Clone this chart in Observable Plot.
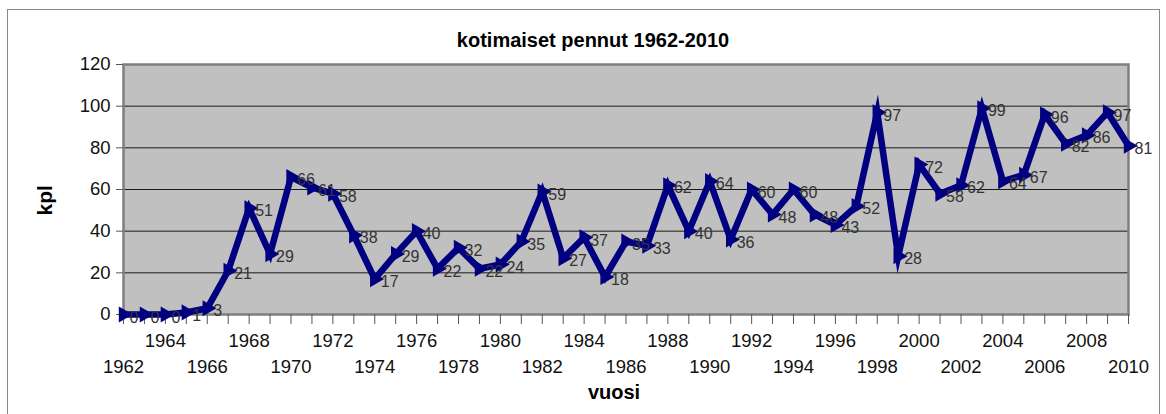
<!DOCTYPE html>
<html><head><meta charset="utf-8">
<script src="https://cdn.jsdelivr.net/npm/d3@7"></script>
<script src="https://cdn.jsdelivr.net/npm/@observablehq/plot@0.6"></script>
<style>
body{margin:0;background:#fff;font-family:"Liberation Sans",Arial,sans-serif;}
#wrap{position:relative;width:1166px;height:414px;overflow:hidden;}
#border{position:absolute;left:7px;top:9px;width:1153px;height:420px;border:1px solid #8a8a8a;box-sizing:border-box;}
#chart{position:absolute;left:0;top:0;}
</style></head><body>
<div id="wrap"><div id="border"></div><div id="chart"></div></div>
<script>
const years = [1962,1963,1964,1965,1966,1967,1968,1969,1970,1971,1972,1973,1974,1975,1976,1977,1978,1979,1980,1981,1982,1983,1984,1985,1986,1987,1988,1989,1990,1991,1992,1993,1994,1995,1996,1997,1998,1999,2000,2001,2002,2003,2004,2005,2006,2007,2008,2009,2010];
const counts = [0,0,0,1,3,21,51,29,66,61,58,38,17,29,40,22,32,22,24,35,59,27,37,18,35,33,62,40,64,36,60,48,60,48,43,52,97,28,72,58,62,99,64,67,96,82,86,97,81];
const upperTickYears = [1964,1968,1972,1976,1980,1984,1988,1992,1996,2000,2004,2008];
const lowerTickYears = [1962,1966,1970,1974,1978,1982,1986,1990,1994,1998,2002,2006,2010];
const yTicks = [0,20,40,60,80,100,120];
const gridValues = [20,40,60,80,100];
const titleText = "kotimaiset pennut 1962-2010";
const xLabel = "vuosi";
const yLabel = "kpl";

const data = years.map((y, i) => ({year: y, count: counts[i]}));
const font = "Liberation Sans, Arial, sans-serif";

const chart = Plot.plot({
  width: 1166,
  height: 414,
  marginLeft: 123,
  marginRight: 38,
  marginTop: 64,
  marginBottom: 100,
  style: {fontFamily: font, background: "transparent", color: "#111"},
  x: {domain: [1962, 2010]},
  y: {domain: [0, 120]},
  marks: [
    Plot.frame({fill: "#c0c0c0", stroke: null}),
    Plot.ruleY(gridValues, {stroke: "#1a1a1a", strokeWidth: 1}),
    Plot.frame({stroke: "#7f7f7f", strokeWidth: 2.5}),
    Plot.axisY(yTicks, {tickSize: 7, tickPadding: 6, fontSize: 18.5, stroke: "#555", fill: "#111", label: null}),
    Plot.axisX(years, {tickSize: 10, stroke: "#555", tickFormat: () => "", label: null}),
    Plot.axisX(upperTickYears, {tickSize: 0, tickPadding: 19, fontSize: 18.5, fill: "#111", tickFormat: d => String(d), label: null}),
    Plot.axisX(lowerTickYears, {tickSize: 0, tickPadding: 45, fontSize: 18.5, fill: "#111", tickFormat: d => String(d), label: null}),
    Plot.line(data, {x: "year", y: "count", stroke: "#000080", strokeWidth: 6.5, strokeLinejoin: "miter", strokeMiterlimit: 10, strokeLinecap: "butt"}),
    Plot.dot(data, {x: "year", y: "count", symbol: "triangle", rotate: 90, r: 6, fill: "#000080", stroke: null}),
    Plot.text(data, {x: "year", y: "count", text: d => String(d.count), textAnchor: "start", dx: 6, dy: 3, fontSize: 16, fill: "#333"}),
    Plot.text([titleText], {frameAnchor: "top", dy: -32, dx: -33, fontSize: 20, fontWeight: "bold", fill: "#000"}),
    Plot.text([xLabel], {frameAnchor: "bottom", dy: 84, dx: -12, fontSize: 20, fontWeight: "bold", fill: "#000"}),
    Plot.text([yLabel], {frameAnchor: "left", dx: -78, dy: 26, rotate: -90, fontSize: 21, fontWeight: "bold", fill: "#000"})
  ]
});
document.getElementById("chart").appendChild(chart);
</script>
</body></html>
